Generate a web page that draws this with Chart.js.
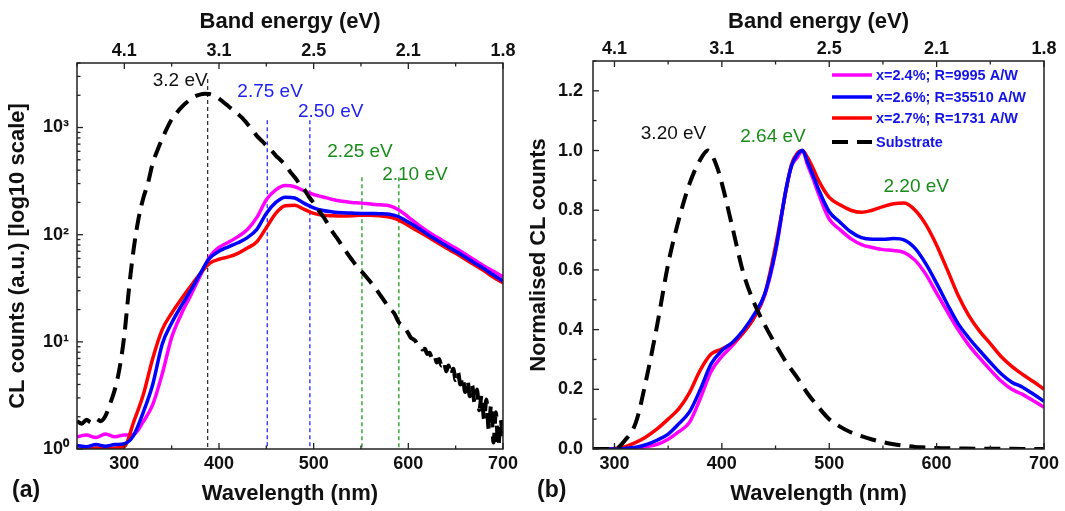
<!DOCTYPE html>
<html><head><meta charset="utf-8">
<script src="https://cdn.jsdelivr.net/npm/chart.js@4.4.0/dist/chart.umd.min.js"></script>
<style>
html,body{margin:0;padding:0;background:#fff;}
#wrap{position:relative;width:1065px;height:511px;overflow:hidden;background:#fff;}
.pane{position:absolute;top:0;height:511px;}
#pa{left:0;width:522px;}
#pb{left:522px;width:543px;}
</style></head><body>
<div id="wrap">
<div class="pane" id="pa"><canvas id="ca"></canvas></div>
<div class="pane" id="pb"><canvas id="cb"></canvas></div>
</div>
<script>
// ---------------- data: panel (a) ----------------
const wlA = [250,260,270,280,290,300,310,320,330,340,350,360,370,380,390,400,410,420,430,440,450,460,470,480,490,500,510,520,530,540,550,560,570,580,590,600,610,620,630,640,650,660,670,680,690,700];
const magentaA = [1.3,1.35,1.28,1.38,1.3,1.35,1.37,1.8,2.6,5.0,11,18,27,41,62,76,85,96,112,145,212,262,287,280,256,237,225,213,205,200,197,193,190,186,170,146,125,108,95,84,75,66,58,51,45.5,40.5];
const blueA = [1.08,1.05,1.1,1.06,1.1,1.12,1.35,2.2,4.0,9.5,15,21.5,30,43,60,70,77,84,94,112,158,200,224,220,196,178,168,163,160,159,158,157.5,157,155,147,131,116,101,89,79,70,62,54.5,48,42,37];
const redA = [1.0,1.0,1.02,1.0,1.02,1.05,1.8,3.2,7.0,13,18.5,25,33,43,54,59,62,67,75,86,116,158,186,188,172,158,152,150,149,150,152,152,150,146,137,122,108,96,85,75,67,59,52,46,40,35.5];
const wlSubA = [250,255,260,265,270,275,280,285,290,295,300,305,310,315,320,325,330,335,340,345,350,355,360,365,370,375,380,385,390,395,400,405,410,415,420,425,430,435,440,445,450,455,460,465,470,475,480,485,490,495,500,505,510,515,520,525,530,535,540,545,550,555,560,565,570,575,580,585,590,595,
  600,602.5,605,607.5,610,612.5,615,617.5,620,622.5,625,627.5,630,632.5,635,637.5,640,642.5,645,647.5,650,652.5,655,657.5,660,662.5,665,667.5,670,672.5,675,677.5,680,682.5,685,687.5,690,692.5,695,697.5,700];
const substrateA = [1.82,1.72,1.87,1.77,1.92,1.82,2.03,2.65,3.6,5.7,11.5,32,75,141,219,303,466,614,785,980,1190,1360,1530,1690,1840,1960,2030,2070,2055,1985,1865,1710,1580,1450,1335,1220,1080,965,836,755,680,617,548,497,446,389,344,299,265,226,198,170,148,126,106,92,79,68,59,51.5,46,41,36.2,31.9,27.6,23.8,20.6,18.5,15.2,14.0,
  12,11.0,10.6,10.2,9.4,9.3,8.5,8.6,7.7,7.9,7.0,7.5,6.4,6.9,6.0,6.6,5.3,6.0,4.9,5.6,4.4,5.2,4.0,4.7,3.4,4.4,3.1,3.9,2.7,3.6,2.3,3.2,1.9,2.9,1.5,2.6,1.15,2.2,1.05,1.9,1.1];
const peakWlA = [388, 451, 496, 551, 590];
const peakTopA = [2830, 1170, 1170, 343, 343];
const peakTextA = ['3.2 eV','2.75 eV','2.50 eV','2.25 eV','2.10 eV'];

// ---------------- data: panel (b) ----------------
const wlB = [280,290,300,310,320,330,340,350,360,370,380,390,400,410,420,430,440,450,460,465,470,475,480,485,490,500,510,520,530,540,550,560,570,580,590,600,610,620,630,640,650,660,670,680,690,700];
const magentaB = [0,0,0,0.001,0.003,0.008,0.016,0.033,0.058,0.09,0.17,0.26,0.31,0.347,0.39,0.44,0.515,0.66,0.875,0.95,0.975,1.0,0.95,0.905,0.855,0.77,0.735,0.705,0.685,0.675,0.668,0.665,0.658,0.632,0.585,0.522,0.46,0.4,0.348,0.305,0.265,0.228,0.2,0.183,0.162,0.14];
const blueB = [0,0,0,0.002,0.006,0.015,0.03,0.05,0.085,0.125,0.2,0.285,0.33,0.358,0.398,0.45,0.52,0.665,0.875,0.95,0.985,1.0,0.96,0.916,0.87,0.795,0.76,0.728,0.708,0.703,0.703,0.705,0.7,0.672,0.62,0.555,0.485,0.42,0.372,0.33,0.29,0.252,0.224,0.207,0.184,0.16];
const redB = [0,0,0.002,0.008,0.022,0.042,0.068,0.1,0.135,0.19,0.265,0.318,0.335,0.355,0.39,0.44,0.52,0.68,0.87,0.955,0.99,1.0,0.975,0.94,0.9,0.843,0.818,0.8,0.793,0.8,0.812,0.822,0.824,0.8,0.752,0.683,0.6,0.515,0.447,0.395,0.353,0.31,0.277,0.25,0.226,0.2];
const wlSubB = [280,290,300,310,320,330,340,350,360,370,380,387,395,400,410,420,430,440,450,460,470,480,490,500,510,520,530,540,550,560,570,580,590,600,620,640,660,680,700];
const substrateB = [0,0,0,0.03,0.09,0.24,0.42,0.62,0.77,0.89,0.97,1.0,0.95,0.89,0.74,0.59,0.49,0.415,0.35,0.29,0.24,0.185,0.14,0.1,0.075,0.056,0.043,0.032,0.023,0.016,0.011,0.007,0.005,0.003,0.002,0.001,0.001,0,0];
const peakTextB = ['3.20 eV','2.64 eV','2.20 eV'];

// ---------------- axes / labels ----------------
const wlTicks = [300,400,500,600,700];
const wlMinorA = [250,350,450,550,650];
const wlMinorB = [350,450,550,650];
const energyLabels = ['4.1','3.1','2.5','2.1','1.8'];
const logTicks = [1,10,100,1000];
const logLabels = ['10\u2070','10\u00B9','10\u00B2','10\u00B3'];
const logMinor = [2,3,4,5,6,7,8,9,20,30,40,50,60,70,80,90,200,300,400,500,600,700,800,900,2000,3000,4000];
const normTicks = [0,0.2,0.4,0.6,0.8,1.0,1.2];
const normMinor = [0.1,0.3,0.5,0.7,0.9,1.1,1.3];
const seriesNames = ['x=2.4%; R=9995 A/W','x=2.6%; R=35510 A/W','x=2.7%; R=1731 A/W','Substrate'];
const seriesColors = ['#ff00ff','#0000ff','#ff0000','#000000'];

const FONT = "'Liberation Sans', Arial, Helvetica, sans-serif";
Chart.defaults.font.family = FONT;

const pts = (xs, ys) => xs.map((x, i) => ({x: x, y: ys[i]}));

const frameTicks = {
  id: 'frameTicks',
  afterDatasetsDraw(chart, args, o) {
    const ctx = chart.ctx, a = chart.chartArea;
    ctx.save();
    ctx.strokeStyle = '#222';
    ctx.lineWidth = 1.5;
    ctx.setLineDash([]);
    ctx.strokeRect(a.left, a.top, a.right - a.left, a.bottom - a.top);
    ctx.lineWidth = 1.3;
    const draw = (s, v, len) => {
      const p = s.getPixelForValue(v);
      ctx.beginPath();
      if (s.position === 'bottom') { ctx.moveTo(p, a.bottom); ctx.lineTo(p, a.bottom - len); }
      else if (s.position === 'top') { ctx.moveTo(p, a.top); ctx.lineTo(p, a.top + len); }
      else { ctx.moveTo(a.left, p); ctx.lineTo(a.left + len, p); }
      ctx.stroke();
    };
    o.marks.forEach(m => {
      const s = chart.scales[m.scale];
      m.major.forEach(v => draw(s, v, 6));
      m.minor.forEach(v => draw(s, v, 3.5));
    });
    ctx.restore();
  }
};

const notes = {
  id: 'notes',
  beforeDatasetsDraw(chart, args, o) {
    const ctx = chart.ctx, xs = chart.scales.x, ys = chart.scales.y, a = chart.chartArea;
    ctx.save();
    ctx.lineWidth = 1.3;
    ctx.setLineDash([4, 3]);
    (o.lines || []).forEach(l => {
      const x = xs.getPixelForValue(l.x);
      ctx.strokeStyle = l.color;
      ctx.beginPath();
      ctx.moveTo(x, ys.getPixelForValue(l.top));
      ctx.lineTo(x, a.bottom);
      ctx.stroke();
    });
    ctx.restore();
  },
  afterDraw(chart, args, o) {
    const ctx = chart.ctx, xs = chart.scales.x, ys = chart.scales.y;
    ctx.save();
    ctx.textAlign = 'center';
    ctx.textBaseline = 'middle';
    ctx.font = "19px " + FONT;
    (o.labels || []).forEach(t => {
      ctx.fillStyle = t.color;
      ctx.fillText(t.text, xs.getPixelForValue(t.x), ys.getPixelForValue(t.y));
    });
    ctx.font = "bold 23px " + FONT;
    ctx.fillStyle = '#111';
    ctx.textAlign = 'left';
    ctx.fillText(o.panel.text, o.panel.x, o.panel.y);
    if (o.legend) {
      const L = o.legend;
      ctx.font = "bold 14.5px " + FONT;
      chart.data.datasets.forEach((ds, i) => {
        const y = L.rows[i];
        ctx.strokeStyle = ds.borderColor;
        ctx.lineWidth = ds.borderWidth;
        ctx.setLineDash(ds.borderDash || []);
        ctx.beginPath();
        ctx.moveTo(L.x0, y);
        ctx.lineTo(L.x1, y);
        ctx.stroke();
        ctx.setLineDash([]);
        ctx.fillStyle = '#1414e6';
        ctx.fillText(ds.label, L.x1 + 4, y + 1);
      });
    }
    ctx.restore();
  }
};

function makeDatasets(sets) {
  return sets.map((s, i) => ({
    label: seriesNames[i],
    data: s,
    borderColor: seriesColors[i],
    backgroundColor: seriesColors[i],
    borderWidth: i === 3 ? 4 : 3.5,
    borderDash: i === 3 ? [16, 9] : [],
    pointRadius: 0,
    fill: false,
    cubicInterpolationMode: 'monotone',
    order: [3, 1, 2, 0][i]
  }));
}

const tickFont = {family: FONT, size: 18, weight: 'bold'};
const titleFont = {family: FONT, size: 22, weight: 'bold', lineHeight: 1.0};

function xAxis(min, max, pos, h, labels, title, pad) {
  return {
    type: 'linear', position: pos, min: min, max: max,
    afterBuildTicks: s => { s.ticks = wlTicks.map(v => ({value: v})); },
    afterFit: s => { s.height = h; },
    grid: {display: false, drawTicks: false}, border: {display: false},
    ticks: {font: tickFont, color: '#111', padding: pos === 'top' ? 1 : 4, maxRotation: 0, autoSkip: false,
      callback: v => labels[wlTicks.indexOf(v)]},
    title: {display: true, text: title, font: titleFont, color: '#111', padding: pad}
  };
}

// ---------------- chart (a) ----------------
new Chart(document.getElementById('ca'), {
  type: 'line',
  data: {datasets: makeDatasets([pts(wlA, magentaA), pts(wlA, blueA), pts(wlA, redA), pts(wlSubA, substrateA)])},
  options: {
    responsive: true, maintainAspectRatio: false, animation: false, devicePixelRatio: 1,
    layout: {padding: {left: 0, right: 18, top: 0, bottom: 0}},
    plugins: {
      legend: {display: false}, tooltip: {enabled: false},
      frameTicks: {marks: [
        {scale: 'x', major: wlTicks, minor: wlMinorA},
        {scale: 'x2', major: wlTicks, minor: wlMinorA},
        {scale: 'y', major: logTicks, minor: logMinor}
      ]},
      notes: {
        lines: peakWlA.map((x, i) => ({x: x, top: peakTopA[i], color: ['#333333','#2a2aff','#2a2aff','#1f9a1f','#1f9a1f'][i]})),
        labels: [
          {text: peakTextA[0], x: 359, y: 2710, color: '#111'},
          {text: peakTextA[1], x: 454, y: 2140, color: '#1e1ef0'},
          {text: peakTextA[2], x: 518, y: 1390, color: '#1e1ef0'},
          {text: peakTextA[3], x: 549, y: 588, color: '#1a8c1a'},
          {text: peakTextA[4], x: 607, y: 366, color: '#1a8c1a'}
        ],
        panel: {text: '(a)', x: 12, y: 491}
      }
    },
    scales: {
      x: xAxis(250, 700, 'bottom', 62, wlTicks.map(String), 'Wavelength (nm)', {top: 0, bottom: 6}),
      x2: xAxis(250, 700, 'top', 63, energyLabels, 'Band energy (eV)', {top: 11, bottom: 0}),
      y: {
        type: 'logarithmic', position: 'left', min: 1, max: 4000,
        afterBuildTicks: s => { s.ticks = logTicks.map(v => ({value: v})); },
        afterFit: s => { s.width = 77; },
        grid: {display: false, drawTicks: false}, border: {display: false},
        ticks: {font: tickFont, color: '#111', padding: 8, autoSkip: false,
          callback: v => logLabels[logTicks.indexOf(v)]},
        title: {display: true, text: 'CL counts (a.u.) [log10 scale]', font: titleFont, color: '#111', padding: {top: 7, bottom: 0}}
      }
    }
  },
  plugins: [frameTicks, notes]
});

// ---------------- chart (b) ----------------
new Chart(document.getElementById('cb'), {
  type: 'line',
  data: {datasets: makeDatasets([pts(wlB, magentaB), pts(wlB, blueB), pts(wlB, redB), pts(wlSubB, substrateB)])},
  options: {
    responsive: true, maintainAspectRatio: false, animation: false, devicePixelRatio: 1,
    layout: {padding: {left: 0, right: 21, top: 0, bottom: 0}},
    plugins: {
      legend: {display: false}, tooltip: {enabled: false},
      frameTicks: {marks: [
        {scale: 'x', major: wlTicks, minor: wlMinorB},
        {scale: 'x2', major: wlTicks, minor: wlMinorB},
        {scale: 'y', major: normTicks, minor: normMinor}
      ]},
      notes: {
        lines: [],
        labels: [
          {text: peakTextB[0], x: 355, y: 1.056, color: '#111'},
          {text: peakTextB[1], x: 447.6, y: 1.046, color: '#1a8c1a'},
          {text: peakTextB[2], x: 581, y: 0.878, color: '#1a8c1a'}
        ],
        panel: {text: '(b)', x: 15, y: 491},
        legend: {x0: 310, x1: 350, rows: [75, 97, 118, 142]}
      }
    },
    scales: {
      x: xAxis(280, 700, 'bottom', 62, wlTicks.map(String), 'Wavelength (nm)', {top: 0, bottom: 6}),
      x2: xAxis(280, 700, 'top', 61, energyLabels, 'Band energy (eV)', {top: 11, bottom: 0}),
      y: {
        type: 'linear', position: 'left', min: 0, max: 1.3,
        afterBuildTicks: s => { s.ticks = normTicks.map(v => ({value: v})); },
        afterFit: s => { s.width = 71; },
        grid: {display: false, drawTicks: false}, border: {display: false},
        ticks: {font: tickFont, color: '#111', padding: 10, autoSkip: false,
          callback: v => v.toFixed(1)},
        title: {display: true, text: 'Normalised CL counts', font: titleFont, color: '#111', padding: {top: 5.5, bottom: 0}}
      }
    }
  },
  plugins: [frameTicks, notes]
});
</script>
</body></html>
